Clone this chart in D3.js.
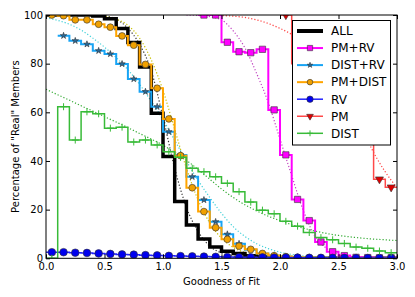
<!DOCTYPE html>
<html>
<head>
<meta charset="utf-8">
<script src="https://cdn.jsdelivr.net/npm/d3@7"></script>
<style>
  body { margin: 0; background: #fff; }
  text { font-family: "DejaVu Sans", sans-serif; }
</style>
</head>
<body>
<svg id="chart" width="415" height="297"></svg>
<script>
// histogram bins (centres), width 0.1
let binCenters = [0.05, 0.15, 0.25, 0.35, 0.45, 0.55, 0.65, 0.75, 0.85, 0.95,
                  1.05, 1.15, 1.25, 1.35, 1.45, 1.55, 1.65, 1.75, 1.85, 1.95,
                  2.05, 2.15, 2.25, 2.35, 2.45, 2.55, 2.65, 2.75, 2.85, 2.95]
let binWidth = 0.1

let seriesNames = ["ALL", "PM+RV", "DIST+RV", "PM+DIST", "RV", "PM", "DIST"]

let allValues = [100, 100, 100, 100, 99.6, 98.5, 94.5, 88.7, 78.6, 59.6,
                 41.8, 23.3, 13.7, 7.9, 4.6, 2.9, 2.0, 1.0, 0.5, 0.3,
                 0.1, 0, 0, 0, 0, 0, 0, 0, 0, 0]
let pmRvValues = [null, null, null, null, null, null, null, null, null, null,
                  null, null, null, 100, 100, 88.8, 84.9, 84.5, 85.9, 61,
                  42.5, 24.2, 15.5, 6.7, 2.7, 1.1, 0.4, 0.3, 0.2, 0.2]
let distRvValues = [null, 91.5, 89.4, 88, 85.3, 84, 79.9, 73.7, 68.5, 62.3,
                    52, 42.5, 33.5, 24, 15, 9.9, 6, 3.5, 2, 1.2,
                    0.7, 0.4, 0.3, 0.2, 0.1, 0.1, 0.1, 0, 0, 0]
let pmDistValues = [100, 99.7, 98, 98, 96.2, 95, 91.4, 87.6, 79.7, 69.9,
                    57.3, 42.2, 29, 19.2, 12.6, 7.8, 5, 3.7, 2, 1.1,
                    0.7, 0.4, 0.3, 0.2, 0.1, 0.1, 0, 0, 0, 0]
let rvValues = [2.5, 2.5, 2.3, 2.2, 2.0, 1.8, 1.6, 1.5, 1.3, 1.2,
                1.0, 0.9, 0.8, 0.7, 0.6, 0.5, 0.45, 0.4, 0.35, 0.3,
                0.3, 0.25, 0.2, 0.2, 0.15, 0.15, 0.1, 0.1, 0.1, 0.1]
let pmValues = [null, null, null, null, null, null, null, null, null, null,
                null, null, null, null, null, null, null, null, null, null,
                100, 80, 76, 72, 67, 62, 56, 50, 32.5, 29.2]
let distValues = [0, 62.3, 48.6, 60.2, 59.4, 53.5, 53.9, 47.8, 48.6, 46.6,
                  43.8, 41.5, 37, 35.6, 33.5, 30.8, 27.4, 23.1, 19.8, 18.3,
                  15.2, 13.2, 10.6, 8.5, 7.6, 6.1, 4.6, 4.1, 3.0, 2.3]

// dotted fit curves, sampled every 0.1
let fitX = [0.0, 0.1, 0.2, 0.3, 0.4, 0.5, 0.6, 0.7, 0.8, 0.9, 1.0,
            1.1, 1.2, 1.3, 1.4, 1.5, 1.6, 1.7, 1.8, 1.9, 2.0,
            2.1, 2.2, 2.3, 2.4, 2.5, 2.6, 2.7, 2.8, 2.9, 3.0]
let fitAll = [null, null, null, null, 100, 99.7, 98.3, 94.5, 88, 77, 58,
              37, 21, 11, 5, 2.2, 0.9, 0.3, 0.1, 0, 0,
              null, null, null, null, null, null, null, null, null, null]
let fitPmRv = [null, null, null, null, null, null, null, null, null, null, null,
               null, 100, 99.8, 99.3, 98, 93.5, 86.5, 76, 64, 49,
               34, 19.5, 9, 4, 1.6, 0.6, 0.2, 0, 0, 0]
let fitDistRv = [98.8, 97.8, 96.2, 93.8, 90.5, 86.8, 82.5, 77.5, 71.5, 64.5, 57,
                 48.5, 40, 32, 25, 18.5, 13, 9, 6, 4, 2.5,
                 1.6, 1, 0.6, 0.4, 0.2, 0.1, 0.1, 0, 0, 0]
let fitPmDist = [null, null, null, null, 100, 99.5, 98.3, 95.8, 90.5, 81.5, 69,
                 53, 37, 24, 14.5, 8.3, 4.5, 2.4, 1.2, 0.6, 0.3,
                 0.1, 0, null, null, null, null, null, null, null, null]
let fitPm = [null, null, null, null, null, null, null, null, null, null, null,
             null, null, null, 100, 99.8, 99.5, 99, 98, 96.5, 94.5,
             92, 88.5, 84, 78.5, 71.5, 63, 53.5, 43.5, 35.5, 29]
let fitDist = [69.5, 67.2, 65, 62.7, 60.5, 58.2, 56, 53.7, 51.3, 49, 46.5,
               43.5, 40.3, 36.5, 32.5, 28.5, 25, 22, 19.5, 17.3, 15.5,
               13.8, 12.4, 11.2, 10.2, 9.4, 8.8, 8.3, 7.9, 7.6, 7.3]

let xTicks = [0.0, 0.5, 1.0, 1.5, 2.0, 2.5, 3.0]
let yTicks = [0, 20, 40, 60, 80, 100]

let series = [
  { name: seriesNames[0], values: allValues, fit: fitAll, color: "#000", width: 3.5, fitColor: "#333", marker: null },
  { name: seriesNames[1], values: pmRvValues, fit: fitPmRv, color: "#ff00ff", width: 2, fitColor: "#c040c0", marker: "square", markerFill: "#ff00ff" },
  { name: seriesNames[2], values: distRvValues, fit: fitDistRv, color: "#18a4f4", width: 2, fitColor: "#40d0d8", marker: "star", markerFill: "#2a6a9a" },
  { name: seriesNames[3], values: pmDistValues, fit: fitPmDist, color: "#ffa500", width: 2, fitColor: "#c8c000", marker: "circle", markerFill: "#f0a000" },
  { name: seriesNames[4], values: rvValues, fit: null, color: "#2222ff", width: 1.5, fitColor: null, marker: "bigcircle", markerFill: "#0000ee" },
  { name: seriesNames[5], values: pmValues, fit: fitPm, color: "#ff4848", width: 1.5, fitColor: "#ff4040", marker: "triangle", markerFill: "#e00000" },
  { name: seriesNames[6], values: distValues, fit: fitDist, color: "#38bb38", width: 1.5, fitColor: "#33aa33", marker: "plus", markerFill: "none" }
]

let plotLeft = 46, plotRight = 397, plotTop = 15, plotBottom = 258.3

let x = d3.scaleLinear().domain([0, 3]).range([plotLeft, plotRight])
let y = d3.scaleLinear().domain([0, 100]).range([plotBottom, plotTop])

let svg = d3.select("#chart")

svg.append("defs").append("clipPath")
    .attr("id", "plot-clip")
  .append("rect")
    .attr("x", plotLeft).attr("y", plotTop)
    .attr("width", plotRight - plotLeft).attr("height", plotBottom - plotTop)

let plot = svg.append("g").attr("clip-path", "url(#plot-clip)")

function markerPath(kind, scale) {
  scale = scale || 1
  if (kind === "square") return d3.symbol(d3.symbolSquare, 40 * scale)()
  if (kind === "star") return d3.symbol(d3.symbolStar, 13 * scale)()
  if (kind === "circle") return d3.symbol(d3.symbolCircle, 36 * scale)()
  if (kind === "bigcircle") return d3.symbol(d3.symbolCircle, 46 * scale)()
  if (kind === "triangle") return d3.symbol(d3.symbolTriangle, 28 * scale)()
  if (kind === "plus") {
    let r = 3.5 * Math.sqrt(scale)
    return "M" + (-r) + ",0H" + r + "M0," + (-r) + "V" + r
  }
  return null
}

function drawMarker(sel, s, scale) {
  sel.attr("d", markerPath(s.marker, scale))
  if (s.marker === "plus") {
    sel.style("fill", "none").style("stroke", s.color).style("stroke-width", 1)
  } else {
    sel.style("fill", s.markerFill).style("stroke", "#333").style("stroke-width", 0.6)
  }
}

// fits (dotted)
let fitLine = d3.line()
    .defined(function(d) { return d[1] !== null })
    .x(function(d) { return x(d[0]) })
    .y(function(d) { return y(d[1]) })
    .curve(d3.curveMonotoneX)

series.forEach(function(s) {
  if (!s.fit) return
  plot.append("path")
      .attr("d", fitLine(fitX.map(function(v, i) { return [v, s.fit[i]] })))
      .style("fill", "none")
      .style("stroke", s.fitColor)
      .style("stroke-width", 1.2)
      .style("stroke-dasharray", "1.2,2")
})

// step histograms
let stepLine = d3.line()
    .x(function(d) { return x(d[0]) })
    .y(function(d) { return y(d[1]) })

series.forEach(function(s) {
  let pts = []
  s.values.forEach(function(v, i) {
    if (v === null) return
    pts.push([binCenters[i] - binWidth / 2, v])
    pts.push([binCenters[i] + binWidth / 2, v])
  })
  plot.append("path")
      .attr("d", stepLine(pts))
      .style("fill", "none")
      .style("stroke", s.color)
      .style("stroke-width", s.width)
      .style("stroke-linejoin", "miter")

  if (!s.marker) return
  plot.selectAll(null)
      .data(s.values.map(function(v, i) { return [binCenters[i], v] })
                    .filter(function(d) { return d[1] !== null }))
      .enter().append("path")
        .attr("transform", function(d) {
          return "translate(" + x(d[0]) + "," + y(d[1]) + ")" +
                 (s.marker === "triangle" ? " rotate(180)" : "")
        })
        .call(drawMarker, s, 1)
})

// axes: ticks pointing inward on all four sides
function strip(g) { g.select(".domain").remove() }

svg.append("g")
    .attr("transform", "translate(0," + plotBottom + ")")
    .call(d3.axisBottom(x).tickValues(xTicks).tickSize(-4).tickPadding(5)
          .tickFormat(d3.format(".1f")))
    .call(strip)
svg.append("g")
    .attr("transform", "translate(0," + plotTop + ")")
    .call(d3.axisTop(x).tickValues(xTicks).tickSize(-4).tickFormat(""))
    .call(strip)
svg.append("g")
    .attr("transform", "translate(" + plotLeft + ",0)")
    .call(d3.axisLeft(y).tickValues(yTicks).tickSize(-4).tickPadding(3))
    .call(strip)
svg.append("g")
    .attr("transform", "translate(" + plotRight + ",0)")
    .call(d3.axisRight(y).tickValues(yTicks).tickSize(-4).tickFormat(""))
    .call(strip)

svg.selectAll(".tick text")
    .style("font-size", "10px")
    .style("font-family", "DejaVu Sans")
    .style("fill", "#000")
svg.selectAll(".tick line").style("stroke", "#000")

svg.append("rect")
    .attr("x", plotLeft).attr("y", plotTop)
    .attr("width", plotRight - plotLeft).attr("height", plotBottom - plotTop)
    .style("fill", "none")
    .style("stroke", "#000")
    .style("stroke-width", 1)

svg.append("text")
    .attr("x", (plotLeft + plotRight) / 2)
    .attr("y", 285)
    .attr("text-anchor", "middle")
    .style("font-size", "10px")
    .text("Goodness of Fit")

svg.append("text")
    .attr("transform", "translate(19," + (plotTop + plotBottom) / 2 + ") rotate(-90)")
    .attr("text-anchor", "middle")
    .style("font-size", "10px")
    .text("Percentage of \"Real\" Members")

// legend
let legend = svg.append("g")
legend.append("rect")
    .attr("x", 292.5).attr("y", 20.5)
    .attr("width", 98).attr("height", 124.5)
    .style("fill", "#fff")
    .style("stroke", "#000")
    .style("stroke-width", 1)

series.forEach(function(s, i) {
  let ly = 31 + i * 17.05
  legend.append("line")
      .attr("x1", 297).attr("x2", 323)
      .attr("y1", ly).attr("y2", ly)
      .style("stroke", s.color)
      .style("stroke-width", s.name === "ALL" ? 4 : s.width)
  if (s.marker) {
    legend.append("path")
        .attr("transform", "translate(310," + ly + ")" + (s.marker === "triangle" ? " rotate(180)" : ""))
        .call(drawMarker, s, 0.7)
  }
  legend.append("text")
      .attr("x", 331).attr("y", ly)
      .attr("dy", "0.36em")
      .style("font-size", "12px")
      .text(s.name)
})
</script>
</body>
</html>
